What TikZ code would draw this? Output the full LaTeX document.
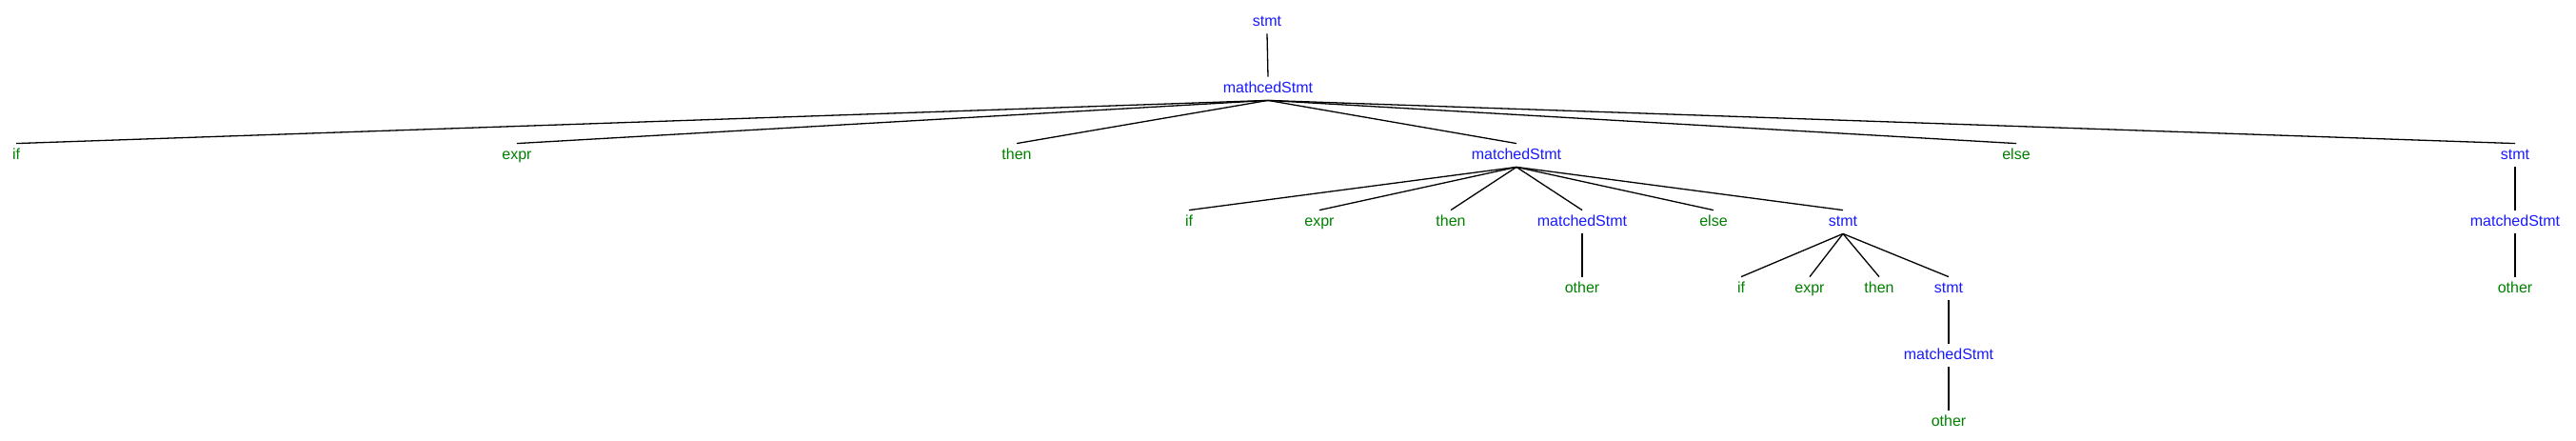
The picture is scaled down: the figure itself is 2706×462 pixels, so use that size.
\documentclass[tikz,border=0pt]{standalone}
\usepackage{fontspec}
\setmainfont{Liberation Sans}
\definecolor{ntblue}{RGB}{25,25,255}
\definecolor{tgreen}{RGB}{0,128,0}
\tikzset{
  label/.style = {font=\fontsize{8}{9.6}\selectfont, inner xsep=1pt, inner ysep=2.25pt, text height=6pt, text depth=1.5pt},
  nt/.style = {label, text=ntblue},
  tm/.style = {label, text=tgreen},
  edge/.style = {line width=.65pt, black}
}
\begin{document}
\begin{tikzpicture}[x = .5pt, y = -.5pt]
    \useasboundingbox (0,0) rectangle (2706,462);
    % top
    \node [nt] (root) at (1331,23) {stmt};
    \node [nt] (mst) at (1332,93) {mathcedStmt};
    % second row
    \node [tm] (ifA) at (17,163) {if};
    \node [tm] (exprA) at (543,163) {expr};
    \node [tm] (thenA) at (1068,163) {then};
    \node [nt] (mstA) at (1593,163) {matchedStmt};
    \node [tm] (elseA) at (2118,163) {else};
    \node [nt] (stmtA) at (2642,163) {stmt};
    % third row
    \node [tm] (ifB) at (1249,233) {if};
    \node [tm] (exprB) at (1386,233) {expr};
    \node [tm] (thenB) at (1524,233) {then};
    \node [nt] (mstB) at (1662,233) {matchedStmt};
    \node [tm] (elseB) at (1800,233) {else};
    \node [nt] (stmtB) at (1936,233) {stmt};
    \node [nt] (mstR) at (2642,233) {matchedStmt};
    % fourth row
    \node [tm] (otherB) at (1662,303) {other};
    \node [tm] (ifC) at (1829,303) {if};
    \node [tm] (exprC) at (1901,303) {expr};
    \node [tm] (thenC) at (1974,303) {then};
    \node [nt] (stmtC) at (2047,303) {stmt};
    \node [tm] (otherR) at (2642,303) {other};
    % bottom
    \node [nt] (mstC) at (2047,373) {matchedStmt};
    \node [tm] (otherC) at (2047,443) {other};
    % edges
    \foreach \a/\b in {root/mst, mst/ifA, mst/exprA, mst/thenA, mst/mstA, mst/elseA, mst/stmtA,
      mstA/ifB, mstA/exprB, mstA/thenB, mstA/mstB, mstA/elseB, mstA/stmtB, stmtA/mstR,
      mstB/otherB, stmtB/ifC, stmtB/exprC, stmtB/thenC, stmtB/stmtC, mstR/otherR,
      stmtC/mstC, mstC/otherC}
      \draw [edge] (\a.south) -- (\b.north);
\end{tikzpicture}
\end{document}
